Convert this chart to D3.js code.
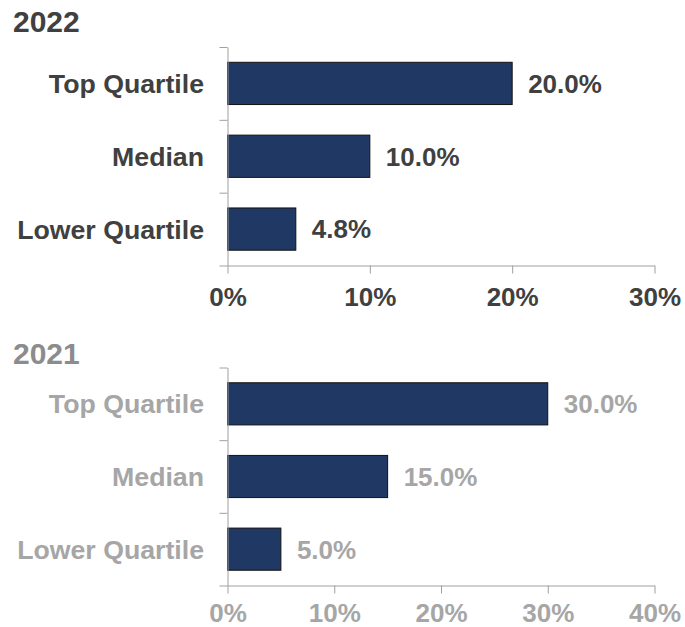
<!DOCTYPE html>
<html>
<head>
<meta charset="utf-8">
<script src="https://cdn.jsdelivr.net/npm/d3@7"></script>
<style>
  body { margin: 0; background: #fff; overflow: hidden; }
  svg { display: block; }
  text { font-family: "Liberation Sans", Arial, sans-serif; font-weight: bold; }
</style>
</head>
<body>
<div id="chart-area"></div>
<script>
// data
var categories = ["Top Quartile", "Median", "Lower Quartile"];
var values2022 = [20.0, 10.0, 4.8];
var values2021 = [30.0, 15.0, 5.0];
var ticks2022 = [0, 10, 20, 30];
var ticks2021 = [0, 10, 20, 30, 40];

var width = 685, height = 627;

var svg = d3.select("#chart-area")
  .append("svg")
    .attr("width", width)
    .attr("height", height);

// draws one panel (title, bars, axes, labels)
function drawPanel(opts) {
  var g = svg.append("g");

  var x = d3.scaleLinear()
    .domain([0, d3.max(opts.ticks)])
    .range([227.5, 654.5]);

  var y = d3.scaleBand()
    .domain(categories)
    .range([opts.top, opts.bottom])
    .paddingInner(0.42)
    .paddingOuter(0.21);

  // tick positions at band edges
  var yEdge = d3.scaleLinear()
    .domain([0, categories.length])
    .range([opts.top, opts.bottom]);

  // title
  g.append("text")
    .attr("x", 13)
    .attr("y", opts.titleY)
    .attr("font-size", "30px")
    .attr("fill", opts.titleColor)
    .text(opts.title);

  // bars
  g.selectAll("rect")
    .data(opts.values)
    .enter().append("rect")
      .attr("x", x(0))
      .attr("y", function(d, i) { return y(categories[i]); })
      .attr("width", function(d) { return x(d) - x(0); })
      .attr("height", y.bandwidth())
      .attr("fill", "#203864")
      .attr("stroke", "#111")
      .attr("stroke-width", 1);

  // value labels
  g.selectAll(".value")
    .data(opts.values)
    .enter().append("text")
      .attr("class", "value")
      .attr("x", function(d) { return x(d) + 16; })
      .attr("y", function(d, i) { return y(categories[i]) + y.bandwidth() / 2; })
      .attr("dy", "0.36em")
      .attr("font-size", "26px")
      .attr("fill", opts.textColor)
      .text(function(d) { return d.toFixed(1) + "%"; });

  // category labels
  g.selectAll(".cat")
    .data(categories)
    .enter().append("text")
      .attr("class", "cat")
      .attr("x", 204)
      .attr("y", function(d) { return y(d) + y.bandwidth() / 2; })
      .attr("dy", "0.36em")
      .attr("text-anchor", "end")
      .attr("font-size", "26.7px")
      .attr("fill", opts.textColor)
      .text(function(d) { return d; });

  // y axis
  g.append("g")
    .attr("transform", "translate(" + x(0) + ",0)")
    .call(d3.axisLeft(yEdge).ticks(categories.length).tickSize(8).tickSizeOuter(0).tickFormat(""));

  // x axis
  var xAxis = g.append("g")
    .attr("transform", "translate(0," + opts.bottom + ")")
    .call(d3.axisBottom(x).tickValues(opts.ticks).tickSize(8).tickSizeOuter(0).tickPadding(opts.tickPad)
      .tickFormat(function(d) { return d + "%"; }));

  xAxis.selectAll("text")
    .attr("font-size", "26px")
    .attr("font-family", null)
    .attr("fill", opts.textColor);

  g.selectAll(".domain, .tick line")
    .attr("stroke", "#a0a0a0");
}

drawPanel({
  title: "2022", titleY: 32, titleColor: "#404040", textColor: "#404040",
  values: values2022, ticks: ticks2022, top: 47, bottom: 265.5, tickPad: 14
});

drawPanel({
  title: "2021", titleY: 364, titleColor: "#8c8c8c", textColor: "#a6a6a6",
  values: values2021, ticks: ticks2021, top: 367.5, bottom: 585.5, tickPad: 10
});
</script>
</body>
</html>
